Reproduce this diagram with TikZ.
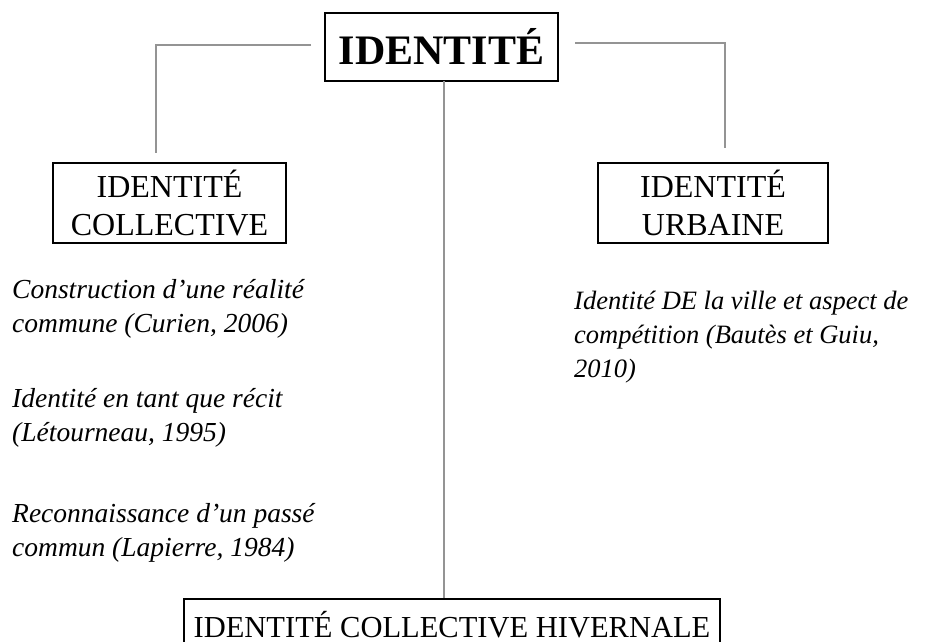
\documentclass[tikz,border=0pt]{standalone}
\usepackage{fontspec}
\setmainfont{Liberation Serif}
\begin{document}
\begin{tikzpicture}[x=1pt,y=-1pt,
  box/.style={draw=black,line width=1.6pt,inner sep=0pt,align=center},
  conn/.style={draw=black!42,line width=1.1pt},
  note/.style={inner sep=0pt,align=left,anchor=base west,
    font=\fontsize{26.5}{34}\selectfont\itshape},
  leftnote/.style={note,font=\fontsize{27.5}{34}\selectfont\itshape}]
\useasboundingbox (0,0) rectangle (933,641);

% main boxes
\node[box,minimum width=233,minimum height=68,
  font=\fontsize{42}{48}\selectfont\bfseries] (top) at (441.5,47) {IDENTITÉ};
\node[box,minimum width=233,minimum height=80,
  font=\fontsize{32}{38}\selectfont] (coll) at (169.5,203) {IDENTITÉ\\COLLECTIVE};
\node[box,minimum width=230,minimum height=80,
  font=\fontsize{32}{38}\selectfont] (urb) at (713,203) {IDENTITÉ\\URBAINE};
% the lower edge of this box runs past the page
\node[box,minimum width=536,text height=39pt,text depth=12pt,anchor=north,
  font=\fontsize{30.5}{36}\selectfont] (hiv) at (452,598) {IDENTITÉ COLLECTIVE HIVERNALE};

% connector ends near the boxes
\coordinate (lA) at (311,45);
\coordinate (lB) at (156,153);
\coordinate (rA) at (575,43);
\coordinate (rB) at (725,148);
\coordinate (cA) at (444,81);
\coordinate (cB) at (444,598);

\draw[conn] (lA) -| (lB);
\draw[conn] (rA) -| (rB);
\draw[conn] (cA) -- (cB);

% references (anchored on the baseline of the last line)
\node[leftnote] (n1) at (12,332) {Construction d’une réalité\\commune (Curien, 2006)};
\node[leftnote] (n2) at (12,441) {Identité en tant que récit\\(Létourneau, 1995)};
\node[leftnote] (n3) at (12,556) {Reconnaissance d’un passé\\commun (Lapierre, 1984)};
\node[note] (n4) at (574,377) {Identité DE la ville et aspect de\\compétition (Bautès et Guiu,\\2010)};
\end{tikzpicture}
\end{document}
